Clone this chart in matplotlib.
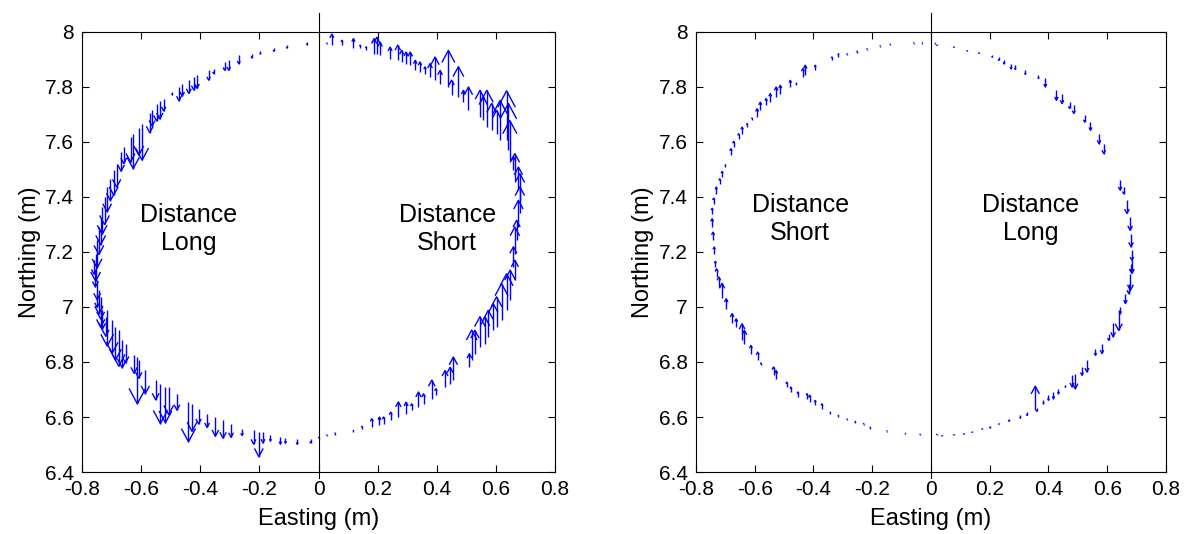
import numpy as np
import matplotlib
matplotlib.use("Agg")
import matplotlib.pyplot as plt
from matplotlib.collections import LineCollection
from matplotlib.ticker import FuncFormatter

plt.rcParams['font.family'] = ['Liberation Sans', 'DejaVu Sans']
plt.rcParams['axes.unicode_minus'] = False

# panel 1: arrow tails (easting, northing) and northing component of each arrow
p1_east = [-0.039, -0.107, -0.152, -0.197, -0.226, -0.270, -0.304, -0.318, -0.355, -0.372,
           -0.411, -0.422, -0.439, -0.461, -0.472, -0.495, -0.524, -0.537, -0.548, -0.563,
           -0.571, -0.597, -0.608, -0.627, -0.636, -0.659, -0.668, -0.683, -0.693, -0.704,
           -0.715, -0.724, -0.732, -0.737, -0.743, -0.749, -0.754,
           -0.760, -0.755, -0.749, -0.743, -0.749, -0.737, -0.737, -0.732, -0.715, -0.720,
           -0.698, -0.687, -0.676, -0.664, -0.653, -0.624, -0.613, -0.608, -0.586, -0.551,
           -0.535, -0.518, -0.507, -0.479, -0.440, -0.428, -0.406, -0.377, -0.349, -0.323,
           -0.296, -0.259, -0.220, -0.202, -0.188, -0.163, -0.129, -0.112, -0.072, -0.027,
           0.000, 0.028, 0.056, 0.118, 0.146, 0.180, 0.206, 0.220, 0.244, 0.270,
           0.296, 0.315, 0.338, 0.355, 0.383, 0.397, 0.428, 0.445, 0.456, 0.510,
           0.518, 0.529, 0.546, 0.563, 0.574, 0.591, 0.602, 0.619, 0.636, 0.648, 0.664,
           0.659, 0.664, 0.670, 0.676, 0.681, 0.681, 0.676, 0.664, 0.659, 0.647,
           0.642, 0.636, 0.614, 0.602, 0.585, 0.569, 0.557, 0.546, 0.507, 0.490,
           0.473, 0.450, 0.439, 0.411, 0.394, 0.377, 0.360, 0.343, 0.327, 0.310,
           0.296, 0.281, 0.268, 0.242, 0.208, 0.197, 0.188, 0.161, 0.141, 0.118,
           0.079, 0.045, 0.028]
p1_north = [7.964, 7.952, 7.940, 7.931, 7.921, 7.915, 7.897, 7.891, 7.867, 7.861,
            7.843, 7.837, 7.827, 7.812, 7.800, 7.782, 7.758, 7.749, 7.737, 7.718,
            7.704, 7.667, 7.652, 7.630, 7.618, 7.582, 7.564, 7.521, 7.497, 7.467,
            7.436, 7.400, 7.364, 7.327, 7.291, 7.242, 7.194,
            7.170, 7.133, 7.097, 7.060, 7.049, 7.036, 7.012, 6.988, 6.988, 6.964,
            6.952, 6.927, 6.915, 6.879, 6.867, 6.824, 6.818, 6.806, 6.770, 6.733,
            6.721, 6.709, 6.709, 6.685, 6.655, 6.648, 6.630, 6.612, 6.600, 6.588,
            6.576, 6.558, 6.552, 6.546, 6.546, 6.533, 6.527, 6.525, 6.521, 6.521,
            6.521, 6.530, 6.536, 6.545, 6.558, 6.564, 6.570, 6.576, 6.588, 6.600,
            6.612, 6.624, 6.636, 6.648, 6.667, 6.679, 6.709, 6.721, 6.733, 6.782,
            6.806, 6.830, 6.855, 6.867, 6.891, 6.915, 6.927, 6.952, 6.988, 7.024, 7.097,
            7.146, 7.194, 7.242, 7.291, 7.340, 7.388, 7.424, 7.461, 7.497, 7.533,
            7.570, 7.606, 7.606, 7.630, 7.643, 7.655, 7.679, 7.691, 7.715, 7.746,
            7.764, 7.770, 7.800, 7.812, 7.824, 7.837, 7.849, 7.855, 7.861, 7.879,
            7.885, 7.891, 7.897, 7.903, 7.915, 7.921, 7.921, 7.934, 7.940, 7.943,
            7.952, 7.952, 7.955]
p1_dn = [-0.010, -0.010, -0.010, -0.010, -0.015, -0.030, -0.036, -0.030, -0.018, -0.036,
         -0.048, -0.048, -0.050, -0.045, -0.050, -0.010, -0.045, -0.065, -0.060, -0.060,
         -0.070, -0.133, -0.100, -0.127, -0.090, -0.060, -0.070, -0.085, -0.090, -0.080,
         -0.090, -0.100, -0.100, -0.100, -0.100, -0.100, -0.100,
         -0.050, -0.060, -0.070, -0.085, -0.050, -0.080, -0.085, -0.070, -0.130, -0.070,
         -0.120, -0.120, -0.130, -0.100, -0.070, -0.065, -0.170, -0.065, -0.085, -0.070,
         -0.145, -0.130, -0.100, -0.060, -0.145, -0.100, -0.055, -0.050, -0.070, -0.065,
         -0.050, -0.025, -0.050, -0.090, -0.040, -0.020, -0.025, -0.020, -0.020, -0.015,
         0.005, 0.005, 0.006, 0.006, 0.008, 0.030, 0.030, 0.024, 0.030, 0.055,
         0.042, 0.024, 0.055, 0.036, 0.067, 0.024, 0.060, 0.060, 0.085, 0.048,
         0.110, 0.085, 0.110, 0.097, 0.097, 0.097, 0.110, 0.133, 0.133, 0.110, 0.073,
         0.073, 0.097, 0.073, 0.097, 0.097, 0.097, 0.085, 0.097, 0.050, 0.145,
         0.170, 0.180, 0.145, 0.085, 0.097, 0.133, 0.085, 0.097, 0.085, 0.042,
         0.110, 0.055, 0.133, 0.048, 0.085, 0.048, 0.024, 0.036, 0.036, 0.048,
         0.042, 0.042, 0.055, 0.042, 0.048, 0.060, 0.055, 0.012, 0.012, 0.033,
         0.018, 0.040, 0.005]

# panel 2
p2_east = [0.015, -0.029, -0.059, -0.139, -0.173, -0.218, -0.252, -0.286, -0.315, -0.337,
           -0.394, -0.428, -0.436, -0.458, -0.479, -0.513, -0.527, -0.547, -0.561, -0.581,
           -0.592, -0.609, -0.626, -0.643, -0.655, -0.672, -0.681, -0.700, -0.711, -0.719,
           -0.731, -0.740, -0.745, -0.745, -0.742, -0.738, -0.734,
           -0.730, -0.722, -0.711, -0.697, -0.677, -0.663, -0.643, -0.635, -0.613, -0.590,
           -0.579, -0.536, -0.527, -0.491, -0.477, -0.453, -0.422, -0.413, -0.394, -0.371,
           -0.343, -0.315, -0.286, -0.258, -0.229, -0.207, -0.150, -0.087, -0.037, 0.019,
           0.037, 0.077, 0.111, 0.140, 0.174, 0.200, 0.230, 0.264, 0.304, 0.327,
           0.355, 0.360, 0.383, 0.400, 0.417, 0.434, 0.457, 0.480, 0.491, 0.514,
           0.531, 0.560, 0.582, 0.605, 0.620, 0.639, 0.644, 0.662, 0.673, 0.679, 0.684,
           0.681, 0.684, 0.681, 0.678, 0.667, 0.656, 0.644, 0.588, 0.572, 0.543,
           0.523, 0.486, 0.472, 0.446, 0.427, 0.389, 0.366, 0.321, 0.287, 0.272,
           0.248, 0.231, 0.208, 0.162, 0.123, 0.077, 0.020]
p2_north = [7.955, 7.957, 7.957, 7.952, 7.946, 7.934, 7.925, 7.915, 7.909, 7.897,
            7.861, 7.843, 7.837, 7.806, 7.800, 7.776, 7.764, 7.746, 7.734, 7.715,
            7.691, 7.679, 7.655, 7.630, 7.612, 7.582, 7.552, 7.509, 7.473, 7.448,
            7.412, 7.376, 7.339, 7.291, 7.242, 7.194, 7.146,
            7.109, 7.073, 7.031, 6.994, 6.940, 6.927, 6.879, 6.867, 6.830, 6.806,
            6.788, 6.752, 6.739, 6.709, 6.691, 6.673, 6.667, 6.655, 6.642, 6.630,
            6.612, 6.600, 6.588, 6.579, 6.570, 6.558, 6.546, 6.537, 6.533, 6.533,
            6.536, 6.539, 6.543, 6.549, 6.561, 6.567, 6.579, 6.591, 6.606, 6.618,
            6.627, 6.633, 6.661, 6.679, 6.691, 6.703, 6.715, 6.752, 6.758, 6.782,
            6.806, 6.848, 6.867, 6.903, 6.940, 6.988, 7.000, 7.049, 7.085, 7.121, 7.170,
            7.158, 7.206, 7.267, 7.327, 7.388, 7.436, 7.461, 7.594, 7.630, 7.673,
            7.697, 7.734, 7.746, 7.776, 7.788, 7.831, 7.843, 7.861, 7.879, 7.885,
            7.897, 7.909, 7.915, 7.927, 7.936, 7.948, 7.955]
p2_dn = [0.004, 0.004, 0.004, 0.004, 0.004, 0.005, 0.005, 0.006, 0.012, 0.012,
         0.018, 0.036, 0.030, 0.008, 0.024, 0.030, 0.036, 0.030, 0.024, 0.030,
         0.030, 0.008, 0.012, 0.024, 0.018, 0.020, 0.024, 0.008, 0.020, 0.018,
         0.024, 0.020, 0.020, 0.030, 0.030, 0.024, 0.020,
         0.030, 0.036, 0.055, 0.036, 0.036, 0.030, 0.060, 0.048, 0.030, 0.030,
         0.008, 0.030, 0.030, 0.018, 0.018, 0.018, 0.018, 0.024, 0.018, 0.018,
         0.006, 0.006, 0.005, 0.005, 0.006, 0.005, 0.004, 0.004, 0.004, 0.004,
         -0.004, -0.004, -0.005, -0.005, -0.005, -0.006, -0.005, -0.006, -0.010, -0.012,
         0.085, -0.012, -0.012, -0.018, -0.024, -0.018, -0.006, -0.042, -0.055, -0.030,
         -0.042, -0.024, -0.036, -0.024, -0.048, -0.073, -0.024, -0.036, -0.036, -0.060, -0.048,
         -0.030, -0.036, -0.048, -0.048, -0.048, -0.024, -0.036, -0.036, -0.036, -0.030,
         -0.024, -0.030, -0.024, -0.036, -0.036, -0.030, -0.012, -0.015, -0.015, -0.018,
         -0.012, -0.012, -0.006, -0.005, -0.005, -0.004, -0.004]

xticks = [-0.8, -0.6, -0.4, -0.2, 0, 0.2, 0.4, 0.6, 0.8]
yticks = [6.4, 6.6, 6.8, 7, 7.2, 7.4, 7.6, 7.8, 8]
labels1 = ("Distance\nLong", "Distance\nShort")
labels2 = ("Distance\nShort", "Distance\nLong")


def matlab_quiver(ax, x, y, v, alpha=0.33, beta=0.5):
    # vertical arrows with open heads, like MATLAB's quiver
    x = np.asarray(x)
    y = np.asarray(y)
    v = np.asarray(v)
    u = np.zeros_like(v)
    segs = []
    for xi, yi, ui, vi in zip(x, y, u, v):
        tx, ty = xi + ui, yi + vi
        segs.append([(xi, yi), (tx, ty)])
        segs.append([(tx - alpha * (ui + beta * vi), ty - alpha * (vi - beta * ui)),
                     (tx, ty),
                     (tx - alpha * (ui - beta * vi), ty - alpha * (vi + beta * ui))])
    ax.add_collection(LineCollection(segs, colors='b', linewidths=1.0))


def style_axes(ax):
    ax.set_xlim(-0.8, 0.8)
    ax.set_ylim(6.4, 8)
    ax.set_xticks(xticks)
    ax.set_yticks(yticks)
    fmt = FuncFormatter(lambda val, pos: '%g' % round(val, 2))
    ax.xaxis.set_major_formatter(fmt)
    ax.yaxis.set_major_formatter(fmt)
    ax.tick_params(direction='in', top=True, right=True, length=5, width=0.8,
                   labelsize=15, pad=6)
    for s in ax.spines.values():
        s.set_linewidth(0.8)
    ax.set_xlabel('Easting (m)', fontsize=17, labelpad=6)
    ax.set_ylabel('Northing (m)', fontsize=17, labelpad=3)
    ax.plot([0, 0], [6.38, 8.07], color='k', lw=0.8, clip_on=False)


fig = plt.figure(figsize=(11.96, 5.34), dpi=100)
ax1 = fig.add_axes([0.0686, 0.1161, 0.3955, 0.824])
ax2 = fig.add_axes([0.5819, 0.1161, 0.393, 0.824])

matlab_quiver(ax1, p1_east, p1_north, p1_dn)
style_axes(ax1)
ax1.text(-0.44, 7.285, labels1[0], ha='center', va='center', fontsize=18, linespacing=1.2)
ax1.text(0.435, 7.285, labels1[1], ha='center', va='center', fontsize=18, linespacing=1.2)

matlab_quiver(ax2, p2_east, p2_north, p2_dn)
style_axes(ax2)
ax2.text(-0.445, 7.32, labels2[0], ha='center', va='center', fontsize=18, linespacing=1.2)
ax2.text(0.34, 7.32, labels2[1], ha='center', va='center', fontsize=18, linespacing=1.2)

fig.savefig('out.png', dpi=100)
